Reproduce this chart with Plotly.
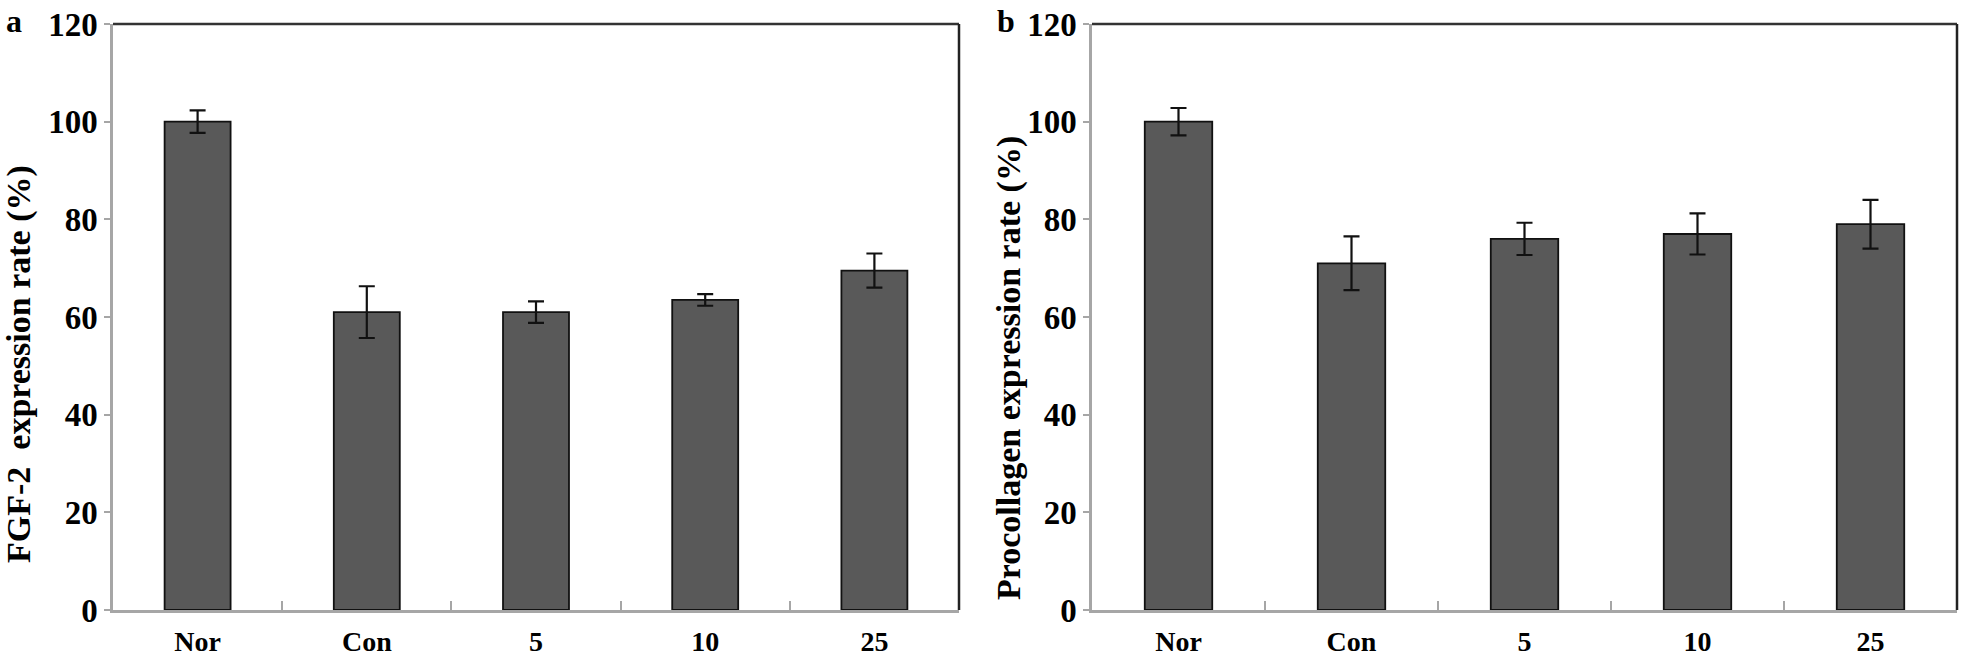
import plotly.graph_objects as go

# data
groups = ["Nor", "Con", "5", "10", "25"]

fgf2_mean = [100, 61, 61, 63.5, 69.5]
fgf2_err = [2.3, 5.3, 2.2, 1.2, 3.5]

procol_mean = [100, 71, 76, 77, 79]
procol_err = [2.8, 5.5, 3.3, 4.2, 5.0]

y_ticks = [0, 20, 40, 60, 80, 100, 120]

FONT = "Liberation Serif"
W, H = 1961, 665


def px_x(p):
    # pixel -> paper fraction
    return p / W


def px_y(p):
    return 1 - p / H


fig = go.Figure()

for i, (mean, err) in enumerate([(fgf2_mean, fgf2_err), (procol_mean, procol_err)]):
    ax = "" if i == 0 else "2"
    fig.add_trace(go.Bar(
        x=groups,
        y=mean,
        xaxis="x" + ax,
        yaxis="y" + ax,
        marker=dict(color="#595959", line=dict(color="#111111", width=1.8)),
        error_y=dict(type="data", array=err, visible=True,
                     color="#111111", thickness=2.2, width=8),
        showlegend=False,
    ))

axis_x = dict(
    type="category", automargin=False,
    showline=True, linecolor="#a6a6a6", linewidth=2.5,
    ticks="inside", tickson="boundaries", ticklen=9, tickwidth=1.5, tickcolor="#a6a6a6",
    tickfont=dict(family=FONT, size=28, color="black", weight="bold"),
    ticklabelstandoff=5,
    showgrid=False, zeroline=False, fixedrange=True,
)
axis_y = dict(
    range=[0, 120], tickvals=y_ticks, automargin=False,
    showline=True, linecolor="#a6a6a6", linewidth=2.5,
    ticks="outside", ticklen=6, tickwidth=1.5, tickcolor="#a6a6a6",
    tickfont=dict(family=FONT, size=33, color="black", weight="bold"),
    showgrid=False, zeroline=False, fixedrange=True,
)

y_dom = [px_y(610), px_y(24)]

fig.update_layout(
    width=W, height=H,
    margin=dict(l=0, r=0, t=0, b=0, autoexpand=False),
    paper_bgcolor="white", plot_bgcolor="white",
    bargap=0.61,
    xaxis=dict(axis_x, domain=[px_x(113), px_x(959)], anchor="y"),
    yaxis=dict(axis_y, domain=y_dom, anchor="x"),
    xaxis2=dict(axis_x, domain=[px_x(1092), px_x(1957)], anchor="y2"),
    yaxis2=dict(axis_y, domain=y_dom, anchor="x2"),
)

# top and right frame lines are darker than the axes
for ax in ["x", "x2"]:
    yref = "y domain" if ax == "x" else "y2 domain"
    fig.add_shape(type="line", xref=ax + " domain", yref=yref,
                  x0=0, x1=1, y0=1, y1=1, line=dict(color="#333333", width=2.5))
    fig.add_shape(type="line", xref=ax + " domain", yref=yref,
                  x0=1, x1=1, y0=0, y1=1, line=dict(color="#222222", width=2.5))

# axis titles and panel letters
title_font = dict(family=FONT, size=34, color="black", weight="bold")
letter_font = dict(family=FONT, size=32, color="black", weight="bold")
fig.add_annotation(text="FGF-2  expression rate (%)", textangle=-90,
                   xref="paper", yref="paper", x=px_x(19), y=px_y(364),
                   xanchor="center", yanchor="middle",
                   showarrow=False, font=title_font)
fig.add_annotation(text="Procollagen expression rate (%)", textangle=-90,
                   xref="paper", yref="paper", x=px_x(1009), y=px_y(368),
                   xanchor="center", yanchor="middle",
                   showarrow=False, font=title_font)
fig.add_annotation(text="a", xref="paper", yref="paper", x=px_x(14), y=px_y(1),
                   xanchor="center", yanchor="top",
                   showarrow=False, font=letter_font)
fig.add_annotation(text="b", xref="paper", yref="paper", x=px_x(1006), y=px_y(1),
                   xanchor="center", yanchor="top",
                   showarrow=False, font=letter_font)

# page body margin off so figure pixels line up with the window
fig.write_html("out.html", config={"displayModeBar": False},
               post_script="document.body.style.margin = '0px';")
